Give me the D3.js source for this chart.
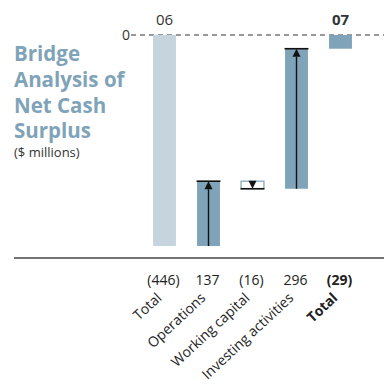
<!DOCTYPE html>
<html>
<head>
<meta charset="utf-8">
<script src="https://cdn.jsdelivr.net/npm/d3@7"></script>
<style>
  html, body { margin: 0; padding: 0; background: #fff; }
  svg { display: block; font-family: "Open Sans", "Noto Sans", sans-serif; }
</style>
</head>
<body>
<svg id="chart" width="384" height="384"></svg>
<script>
// Bridge data: opening total, three movements, closing total ($ millions)
const keys = ["total06", "operations", "workingCapital", "investing", "total07"];
const labels = ["Total", "Operations", "Working capital", "Investing activities", "Total"];
const values = [-446, 137, -16, 296, -29];
const kinds = ["total", "step", "step", "step", "total"];
const valueLabels = ["(446)", "137", "(16)", "296", "(29)"];
const yearLabels = ["06", "", "", "", "07"];
const titleLines = ["Bridge", "Analysis of", "Net Cash", "Surplus"];

const svg = d3.select("#chart");

const x = d3.scaleBand().domain(keys).range([142.5, 362.5])
  .paddingInner(0.48).paddingOuter(0.24);
const y = d3.scaleLinear().domain([0, -446]).range([35, 246]);

// running levels for each bar
let level = 0;
const bars = keys.map((k, i) => {
  let from, to;
  if (kinds[i] === "total") { from = 0; to = values[i]; level = values[i]; }
  else { from = level; to = level + values[i]; level = to; }
  return { key: k, i, from, to, kind: kinds[i], value: values[i] };
});

// title
const title = svg.append("text").attr("x", 14).attr("y", 61)
  .attr("fill", "#7fa3b8").attr("font-weight", "bold").attr("font-size", 20.5);
titleLines.forEach((t, i) => title.append("tspan").attr("x", 14).attr("dy", i ? 25.8 : 0).text(t));
svg.append("text").attr("x", 14).attr("y", 157).attr("fill", "#333")
  .attr("font-size", 13).text("($ millions)");

// zero reference
svg.append("line").attr("x1", 131).attr("x2", 384).attr("y1", y(0)).attr("y2", y(0))
  .attr("stroke", "#333").attr("stroke-width", 1).attr("stroke-dasharray", "5,4");
svg.append("text").attr("x", 130).attr("y", y(0) + 5).attr("text-anchor", "end")
  .attr("fill", "#333").attr("font-size", 14).text("0");

// year labels
svg.selectAll(".year").data(bars).enter().append("text")
  .attr("x", d => x(d.key) + x.bandwidth() / 2).attr("y", 25)
  .attr("text-anchor", "middle").attr("font-size", 15).attr("fill", "#333")
  .attr("font-weight", d => d.i === 4 ? "bold" : "normal")
  .text(d => yearLabels[d.i]);

// bars
const fillFor = d => d.i === 0 ? "#c6d4de" : (d.value < 0 && d.kind === "step" ? "#fff" : "#7fa3b8");
svg.selectAll(".bar").data(bars).enter().append("rect")
  .attr("x", d => x(d.key)).attr("width", x.bandwidth())
  .attr("y", d => Math.min(y(d.from), y(d.to)))
  .attr("height", d => Math.abs(y(d.from) - y(d.to)))
  .attr("fill", fillFor)
  .attr("stroke", d => d.kind === "step" && d.value < 0 ? "#7fa3b8" : "none")
  .attr("stroke-width", 1.2);

// movement arrows
const steps = bars.filter(d => d.kind === "step");
steps.forEach(d => {
  const cx = x(d.key) + x.bandwidth() / 2;
  const y0 = y(d.from), y1 = y(d.to);
  const dir = y1 < y0 ? -1 : 1;
  const head = 8;
  svg.append("line").attr("x1", x(d.key) - 0.5).attr("x2", x(d.key) + x.bandwidth() + 0.5)
    .attr("y1", y1).attr("y2", y1).attr("stroke", "#111").attr("stroke-width", 1.6);
  if (Math.abs(y1 - y0) > head + 4) {
    svg.append("line").attr("x1", cx).attr("x2", cx).attr("y1", y0).attr("y2", y1 - dir * head)
      .attr("stroke", "#111").attr("stroke-width", 1.4);
  }
  svg.append("path")
    .attr("d", `M${cx},${y1} L${cx - 4},${y1 - dir * head} L${cx + 4},${y1 - dir * head} Z`)
    .attr("fill", "#111");
});

// axis base
svg.append("line").attr("x1", 14).attr("x2", 384).attr("y1", 258).attr("y2", 258)
  .attr("stroke", "#444").attr("stroke-width", 1.6);

// value labels
svg.selectAll(".val").data(bars).enter().append("text")
  .attr("x", d => x(d.key) + x.bandwidth() / 2 - 1).attr("y", 285)
  .attr("text-anchor", "middle").attr("font-size", 14).attr("fill", "#222")
  .attr("font-weight", d => d.i === 4 ? "bold" : "normal")
  .text(d => valueLabels[d.i]);

// category labels
svg.selectAll(".cat").data(bars).enter().append("text")
  .attr("transform", d => `translate(${x(d.key) + x.bandwidth() / 2 - 2},${299}) rotate(-43)`)
  .attr("text-anchor", "end").attr("font-size", 14).attr("fill", "#222")
  .attr("font-weight", d => d.i === 4 ? "bold" : "normal")
  .text(d => labels[d.i]);
</script>
</body>
</html>
